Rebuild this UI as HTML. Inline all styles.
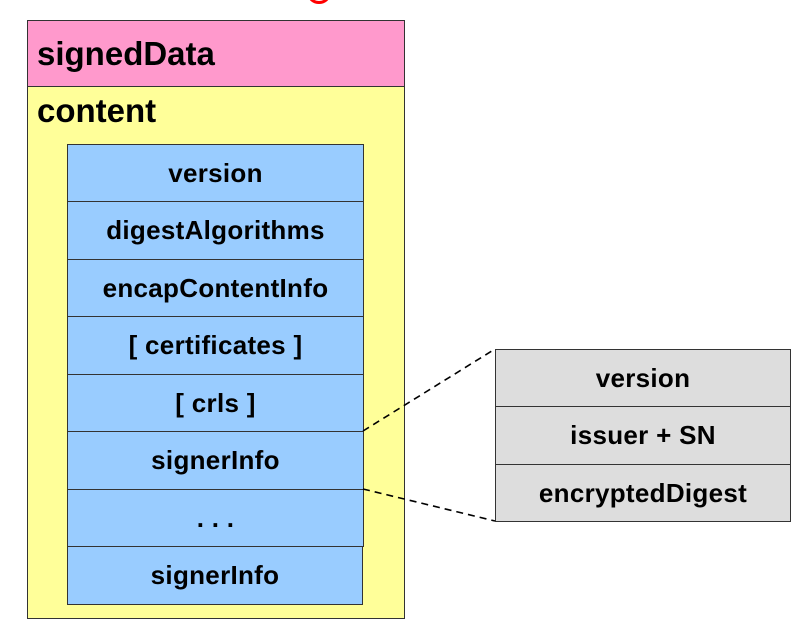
<!DOCTYPE html>
<html><head><style>
body{margin:0;width:812px;height:628px;background:#fff;position:relative;overflow:hidden;font-family:"Liberation Sans",Arial,sans-serif;font-weight:bold;}
.a{position:absolute;box-sizing:border-box;}
.row{position:absolute;box-sizing:border-box;border:1px solid #333;background:#99ccff;display:flex;align-items:center;justify-content:center;font-size:26px;letter-spacing:0.3px;}
.g{background:#dddddd;}
</style></head><body>
<div class="a" style="left:308px;top:-14px;width:22px;height:18px;border:3px solid #f00;border-radius:50%;"></div>
<div class="a" style="left:27px;top:20px;width:378px;height:599px;background:#ffff99;border:1px solid #333;"></div>
<div class="a" style="left:27px;top:20px;width:378px;height:67px;background:#ff99cc;border:1px solid #333;font-size:33px;padding:14px 0 0 9px;">signedData</div>
<div class="a" style="left:37px;top:92px;font-size:33px;">content</div>
<div class="row" style="left:67px;top:144px;width:297px;height:58px;">version</div>
<div class="row" style="left:67px;top:201px;width:297px;height:59px;">digestAlgorithms</div>
<div class="row" style="left:67px;top:259px;width:297px;height:58px;">encapContentInfo</div>
<div class="row" style="left:67px;top:316px;width:297px;height:59px;">[ certificates ]</div>
<div class="row" style="left:67px;top:374px;width:297px;height:58px;">[ crls ]</div>
<div class="row" style="left:67px;top:431px;width:297px;height:59px;">signerInfo</div>
<div class="row" style="left:67px;top:489px;width:297px;height:58px;">. . .</div>
<div class="row" style="left:67px;top:546px;width:296px;height:59px;">signerInfo</div>
<div class="row g" style="left:495px;top:349px;width:296px;height:58px;">version</div>
<div class="row g" style="left:495px;top:406px;width:296px;height:59px;">issuer + SN</div>
<div class="row g" style="left:495px;top:464px;width:296px;height:58px;">encryptedDigest</div>
<svg class="a" style="left:0;top:0" width="812" height="628">
<line x1="363" y1="431" x2="495" y2="349" stroke="#000" stroke-width="1.6" stroke-dasharray="7,5"/>
<line x1="363" y1="489" x2="495" y2="521" stroke="#000" stroke-width="1.6" stroke-dasharray="7,5"/>
</svg>
</body></html>
